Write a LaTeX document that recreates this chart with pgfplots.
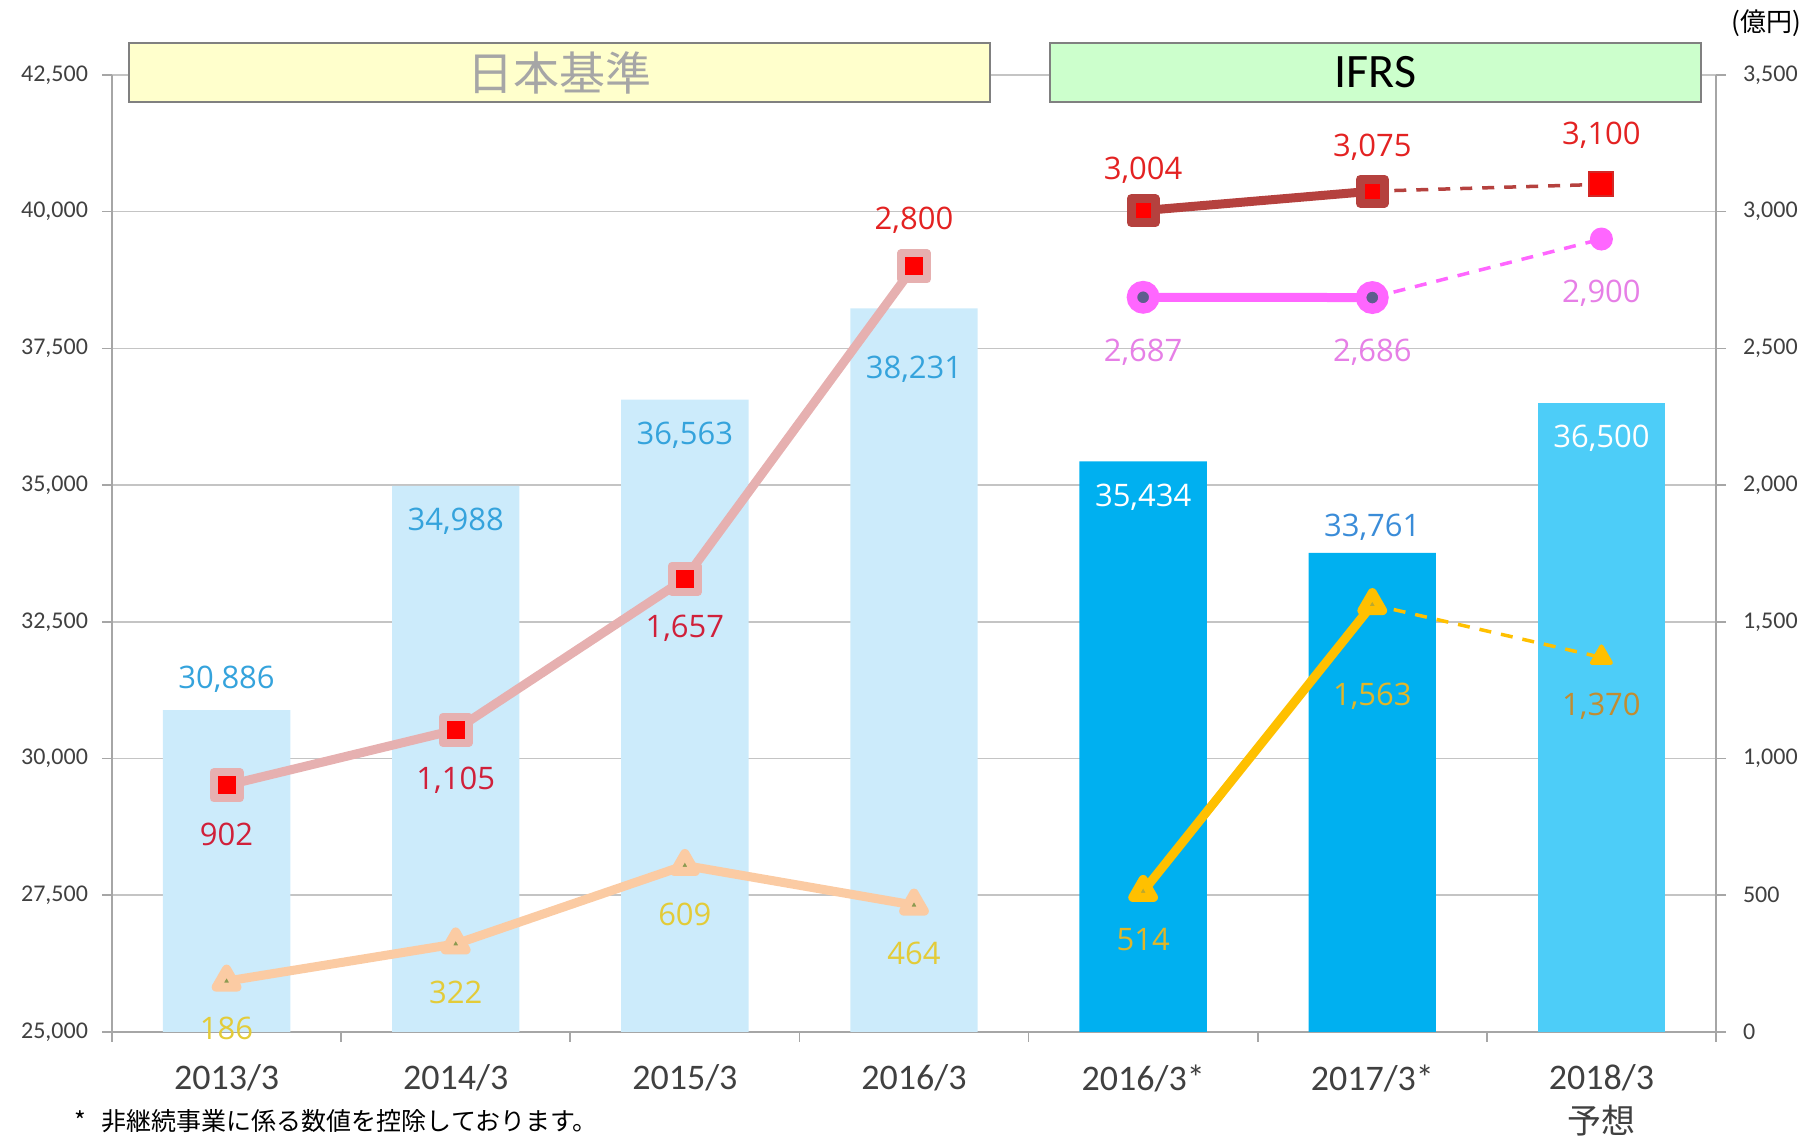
\documentclass[border=0pt]{standalone}
\usepackage{pgfplots}
\pgfplotsset{compat=1.18}
\usepackage{fontspec}
\setmainfont{Carlito}
\newfontfamily\jp{Noto Sans CJK JP}
\newfontfamily\lab{Open Sans}
\definecolor{lightbar}{HTML}{CCEBFB}
\definecolor{darkbar}{HTML}{00B0F0}
\definecolor{midbar}{HTML}{4DCDF8}
\definecolor{gridc}{HTML}{C4C4C4}
\definecolor{axc}{HTML}{A6A6A6}
\definecolor{tickc}{HTML}{404040}
\definecolor{pinkline}{HTML}{E6B0B0}
\definecolor{ifrsred}{HTML}{B5413E}
\definecolor{magc}{HTML}{FF66FF}
\definecolor{dotc}{HTML}{5E5E8E}
\definecolor{peach}{HTML}{FBCBA3}
\definecolor{olivec}{HTML}{8C9A50}
\definecolor{gold}{HTML}{FFC000}
\definecolor{barlab}{HTML}{35A3DC}
\definecolor{barlabb}{HTML}{3A8CD8}
\definecolor{redlab}{HTML}{D0203A}
\definecolor{redlabb}{HTML}{E32222}
\definecolor{maglab}{HTML}{E67FE6}
\definecolor{yellab}{HTML}{E3CB38}
\definecolor{goldlab}{HTML}{E2B628}
\definecolor{brownlab}{HTML}{C28C30}
\definecolor{boxy}{HTML}{FFFFCC}
\definecolor{boxg}{HTML}{CCFFCC}
\definecolor{boxline}{HTML}{808080}
\begin{document}
\begin{tikzpicture}
\useasboundingbox (-56pt,-53pt) rectangle (850pt,516pt);
\begin{axis}[
  at={(0,0)}, anchor=south west,
  scale only axis, width=802pt, height=478.5pt,
  xmin=-0.5, xmax=6.5, ymin=25000, ymax=42500,
  axis x line*=bottom, axis y line*=left,
  axis line style={axc, line width=0.8pt},
  major tick length=5pt,
  tick align=outside,
  tick style={axc, line width=0.8pt},
  xtick={-0.5,0.5,...,6.5},
  xticklabels={},
  extra x ticks={0,1,2,3,4,5,6},
  extra x tick labels={2013/3,2014/3,2015/3,2016/3,2016/3*,2017/3*,2018/3},
  extra x tick style={major tick length=0pt, grid=none,
     xticklabel style={anchor=center, yshift=-23pt, font=\fontsize{18}{20}\selectfont, text=tickc}},
  ytick={25000,27500,...,42500},
  scaled y ticks=false,
  ymajorgrids, major grid style={gridc, line width=0.8pt},
  yticklabel style={font=\fontsize{12}{14}\selectfont, text=tickc, xshift=-3.5pt},
  /pgf/number format/.cd, 1000 sep={,}, assume math mode=true,
]
\addplot[ybar, bar width=0.556, bar shift=0pt, fill=lightbar, draw=none] coordinates {(0,30886) (1,34988) (2,36563) (3,38231)};
\addplot[ybar, bar width=0.556, bar shift=0pt, fill=darkbar, draw=none] coordinates {(4,35434) (5,33761)};
\addplot[ybar, bar width=0.556, bar shift=0pt, fill=midbar, draw=none] coordinates {(6,36500)};
\end{axis}
\begin{axis}[
  at={(0,0)}, anchor=south west,
  scale only axis, width=802pt, height=478.5pt,
  xmin=-0.5, xmax=6.5, ymin=0, ymax=3500,
  axis x line=none, axis y line*=right,
  axis line style={axc, line width=0.8pt},
  major tick length=5pt,
  tick align=outside,
  tick style={axc, line width=0.8pt},
  ytick={0,500,...,3500},
  scaled y ticks=false,
  yticklabel style={font=\fontsize{12}{14}\selectfont, text=tickc, xshift=5pt},
  /pgf/number format/.cd, 1000 sep={,}, assume math mode=true,
  /pgfplots/.cd, clip=false,
]
% header boxes
\draw[boxline, line width=1pt, fill=boxy] (axis cs:-0.426,3401) rectangle (axis cs:3.332,3617);
\node[font=\jp\fontsize{23}{25}\selectfont, text=axc] at (axis cs:1.453,3509) {日本基準};
\draw[boxline, line width=1pt, fill=boxg] (axis cs:3.594,3401) rectangle (axis cs:6.435,3617);
\node[font=\fontsize{24}{26}\selectfont, text=black] at (axis cs:5.014,3509) {IFRS};
\node[font=\jp\fontsize{13}{15}\selectfont, text=black] at (axis cs:6.72,3690) {(億円)};
% Japan GAAP lines
\addplot[pinkline, line width=4.5pt, line join=round, mark=square*, mark size=6.5pt,
  mark options={draw=pinkline, fill=red, line width=4pt}] coordinates {(0,902) (1,1105) (2,1657) (3,2800)};
\addplot[peach, line width=4.5pt, line join=round, mark=triangle*, mark size=6pt,
  mark options={draw=peach, fill=olivec, line width=4.5pt, line join=round}] coordinates {(0,186) (1,322) (2,609) (3,464)};
% IFRS lines
\addplot[ifrsred, line width=1.75pt, dash pattern=on 6pt off 5pt] coordinates {(5,3075) (6,3100)};
\addplot[ifrsred, line width=4.5pt, mark=square*, mark size=6pt,
  mark options={solid, draw=ifrsred, fill=red, line width=4.5pt, line join=round}] coordinates {(4,3004) (5,3075)};
\addplot[red, only marks, mark=square*, mark size=6pt, mark options={draw=ifrsred!60!red, fill=red, line width=1pt}] coordinates {(6,3100)};
\addplot[magc, line width=1.75pt, dash pattern=on 6pt off 5pt] coordinates {(5,2686) (6,2900)};
\addplot[magc, line width=4.5pt, mark=*, mark size=5.6pt,
  mark options={solid, draw=magc, fill=dotc, line width=5.2pt}] coordinates {(4,2687) (5,2686)};
\addplot[magc, only marks, mark=*, mark size=5.5pt, mark options={draw=magc, fill=magc, line width=0.5pt}] coordinates {(6,2900)};
\addplot[gold, line width=1.75pt, dash pattern=on 6pt off 5pt] coordinates {(5,1563) (6,1370)};
\addplot[gold, line width=4.5pt, line join=round, mark=triangle*, mark size=6pt,
  mark options={solid, draw=gold, fill=olivec!60!gold, line width=4.5pt, line join=round}] coordinates {(4,514) (5,1563)};
\addplot[gold, only marks, mark=triangle*, mark size=5.5pt, mark options={draw=gold, fill=gold, line width=2pt, line join=round}] coordinates {(6,1370)};
% bar labels
\begin{scope}[every node/.style={font=\lab\fontsize{15.5}{17}\selectfont}]
\node[text=barlab] at (axis cs:0,1289) {30,886};
\node[text=barlab] at (axis cs:1,1868) {34,988};
\node[text=barlab] at (axis cs:2,2181) {36,563};
\node[text=barlab] at (axis cs:3,2422) {38,231};
\node[text=white] at (axis cs:4,1957) {35,434};
\node[text=barlabb] at (axis cs:5,1847) {33,761};
\node[text=white] at (axis cs:6,2173) {36,500};
\node[text=redlab] at (axis cs:0,723) {902};
\node[text=redlab] at (axis cs:1,921) {1,105};
\node[text=redlab] at (axis cs:2,1475) {1,657};
\node[text=redlabb] at (axis cs:3,2967) {2,800};
\node[text=redlabb] at (axis cs:4,3153) {3,004};
\node[text=redlabb] at (axis cs:5,3234) {3,075};
\node[text=redlabb] at (axis cs:6,3280) {3,100};
\node[text=maglab] at (axis cs:4,2485) {2,687};
\node[text=maglab] at (axis cs:5,2485) {2,686};
\node[text=maglab] at (axis cs:6,2701) {2,900};
\node[text=yellab] at (axis cs:0,13) {186};
\node[text=yellab] at (axis cs:1,144) {322};
\node[text=yellab] at (axis cs:2,431) {609};
\node[text=yellab] at (axis cs:3,287) {464};
\node[text=goldlab] at (axis cs:4,338) {514};
\node[text=goldlab] at (axis cs:5,1226) {1,563};
\node[text=brownlab] at (axis cs:6,1192) {1,370};
\end{scope}
\node[font=\jp\fontsize{17}{19}\selectfont, text=tickc] at (axis cs:6,-325) {予想};
\node[font=\jp\fontsize{12.5}{14}\selectfont, text=black, anchor=west] at (axis cs:-0.696,-325) {*\hspace{8pt}非継続事業に係る数値を控除しております。};
\end{axis}
\end{tikzpicture}
\end{document}
